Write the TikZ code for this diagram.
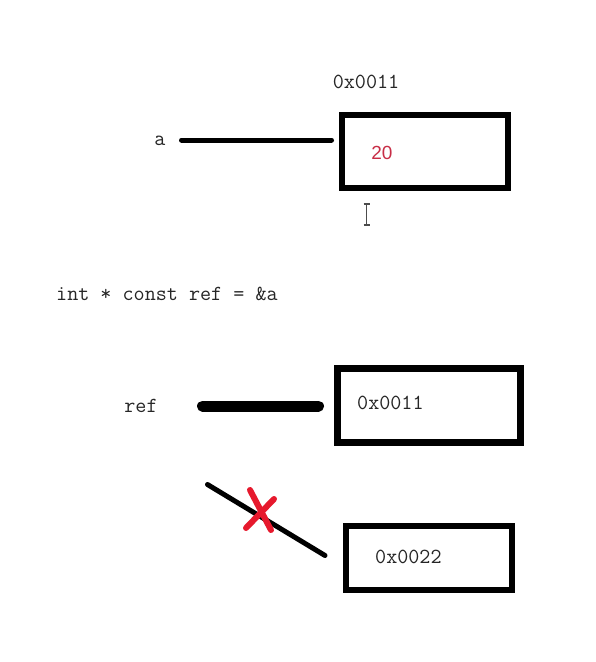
\documentclass[tikz,border=0pt]{standalone}
\usepackage{fontspec}
\setsansfont{Liberation Sans}
\begin{document}
\begin{tikzpicture}[x=1pt,y=-1pt,
  cell/.style={draw=black,line width=6.5pt,inner sep=0pt,outer sep=0pt,anchor=north west},
  code/.style={font=\fontsize{21.5}{24}\selectfont\ttfamily,text=black!85,inner sep=0pt},
  wire/.style={line width=5pt,line cap=round,black},
  cross/.style={line width=6pt,line cap=round,draw={rgb,255:red,230;green,25;blue,45}}]
\useasboundingbox[fill=white] (0,0) rectangle (595,662);
% top box
\node[cell,minimum width=166pt,minimum height=73pt] (boxa) at (342,115) {};
\node[code] (addr) at (366,82) {0x0011};
\node[font=\fontsize{19}{22}\selectfont\sffamily,text={rgb,255:red,200;green,45;blue,70},inner sep=0pt] (val) at (382,153) {20};
\node[code] (la) at (160,141) {a};
\coordinate (sa) at (181.5,140);
\draw[wire,shorten >=10.5pt] (sa) -- (sa -| boxa.west);
% cursor I-beam
\coordinate (c1) at (366.5,204);
\coordinate (c2) at (366.5,225);
\draw[line width=1.3pt,black!70] (c1) -- (c2);
\draw[line width=1.3pt,black!70] ([xshift=-3pt]c1) -- ([xshift=3pt]c1);
\draw[line width=1.3pt,black!70] ([xshift=-3pt]c2) -- ([xshift=3pt]c2);
% code line
\node[code,anchor=west] (decl) at (56,294) {int * const ref = \&a};
% ref box
\node[cell,minimum width=183pt,minimum height=74pt] (boxr) at (337.5,368.5) {};
\node[code,anchor=west] (rv) at (357,403) {0x0011};
\node[code] (lr) at (141,406) {ref};
\coordinate (sr) at (202.5,406);
\draw[line width=11pt,line cap=round,shorten >=19pt] (sr) -- (sr -| boxr.west);
% bottom box
\node[cell,line width=6pt,minimum width=166pt,minimum height=64pt] (boxb) at (346,526) {};
\node[code,anchor=west] (bv) at (375,557) {0x0022};
\coordinate (sb) at (207.5,484.5);
\coordinate (eb) at (325,555.5);
\draw[wire] (sb) -- (eb);
% red cross
\coordinate (x1) at (250,490);
\coordinate (x2) at (271,530);
\coordinate (x3) at (274,499);
\coordinate (x4) at (246,528);
\draw[cross] (x1) -- (x2);
\draw[cross] (x3) -- (x4);
\end{tikzpicture}
\end{document}
